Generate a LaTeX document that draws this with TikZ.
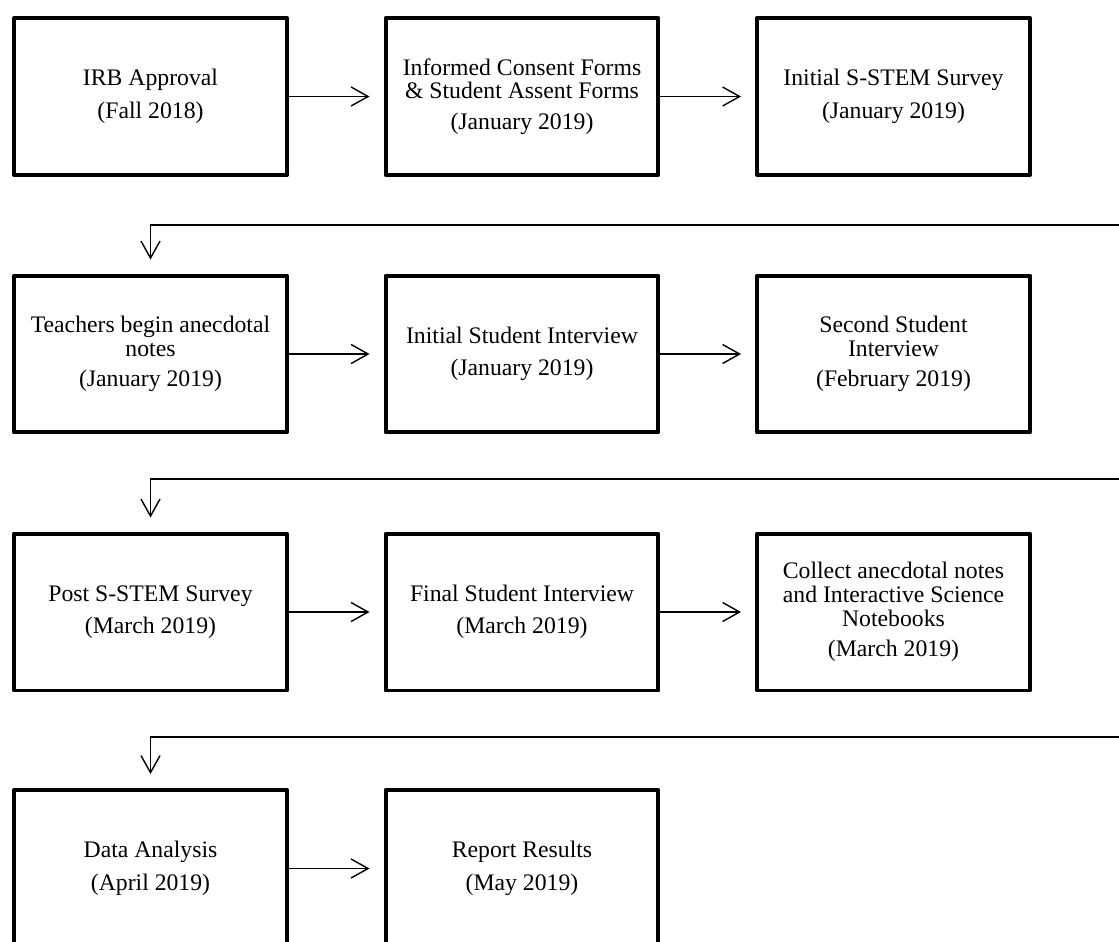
\documentclass[tikz,border=0pt]{standalone}
\usepackage{fontspec}
\setmainfont{Liberation Serif}
\usetikzlibrary{arrows.meta}

\begin{document}
\begin{tikzpicture}[x=0.02cm, y=-0.02cm,
	stagebox/.style={draw, line width=0.08cm, line join=round, minimum width=5.46cm, minimum height=3.14cm, inner sep=0pt, align=center, font=\fontsize{13.5}{13.5}\selectfont},
	flowarrow/.style={line width=0.8pt, -{Straight Barb[length=3.4mm, width=3.8mm]}, shorten >=0.28cm}]
	\useasboundingbox (0,0) rectangle (1119,941);
	% row 1
	\node[stagebox] (irb) at (150.5,96.5) {IRB Approval\\[5pt](Fall 2018)};
	\node[stagebox] (consent) at (522,96.5) {Informed Consent Forms\\\& Student Assent Forms\\[4pt](January 2019)};
	\node[stagebox] (presurvey) at (893.5,96.5) {Initial S-STEM Survey\\[5pt](January 2019)};
	% row 2
	\node[stagebox] (notes) at (150.5,354) {Teachers begin anecdotal\\notes\\[4pt](January 2019)};
	\node[stagebox] (interview1) at (522,354) {Initial Student Interview\\[5pt](January 2019)};
	\node[stagebox] (interview2) at (893.5,354) {Second Student\\Interview\\[4pt](February 2019)};
	% row 3
	\node[stagebox] (postsurvey) at (150.5,612) {Post S-STEM Survey\\[5pt](March 2019)};
	\node[stagebox] (interview3) at (522,612) {Final Student Interview\\[5pt](March 2019)};
	\node[stagebox] (collect) at (893.5,612) {Collect anecdotal notes\\and Interactive Science\\Notebooks\\[4pt](March 2019)};
	% row 4
	\node[stagebox] (analysis) at (150.5,868.5) {Data Analysis\\[5pt](April 2019)};
	\node[stagebox] (report) at (522,868.5) {Report Results\\[5pt](May 2019)};
	% return lines come in from beyond the right edge
	\coordinate (back1) at (1130,225);
	\coordinate (back2) at (1130,479);
	\coordinate (back3) at (1130,737);
	\draw[flowarrow] (irb) -- (consent);
	\draw[flowarrow] (consent) -- (presurvey);
	\draw[flowarrow] (back1) -| (notes.north);
	\draw[flowarrow] (notes) -- (interview1);
	\draw[flowarrow] (interview1) -- (interview2);
	\draw[flowarrow] (back2) -| (postsurvey.north);
	\draw[flowarrow] (postsurvey) -- (interview3);
	\draw[flowarrow] (interview3) -- (collect);
	\draw[flowarrow] (back3) -| (analysis.north);
	\draw[flowarrow] (analysis) -- (report);
\end{tikzpicture}
\end{document}
